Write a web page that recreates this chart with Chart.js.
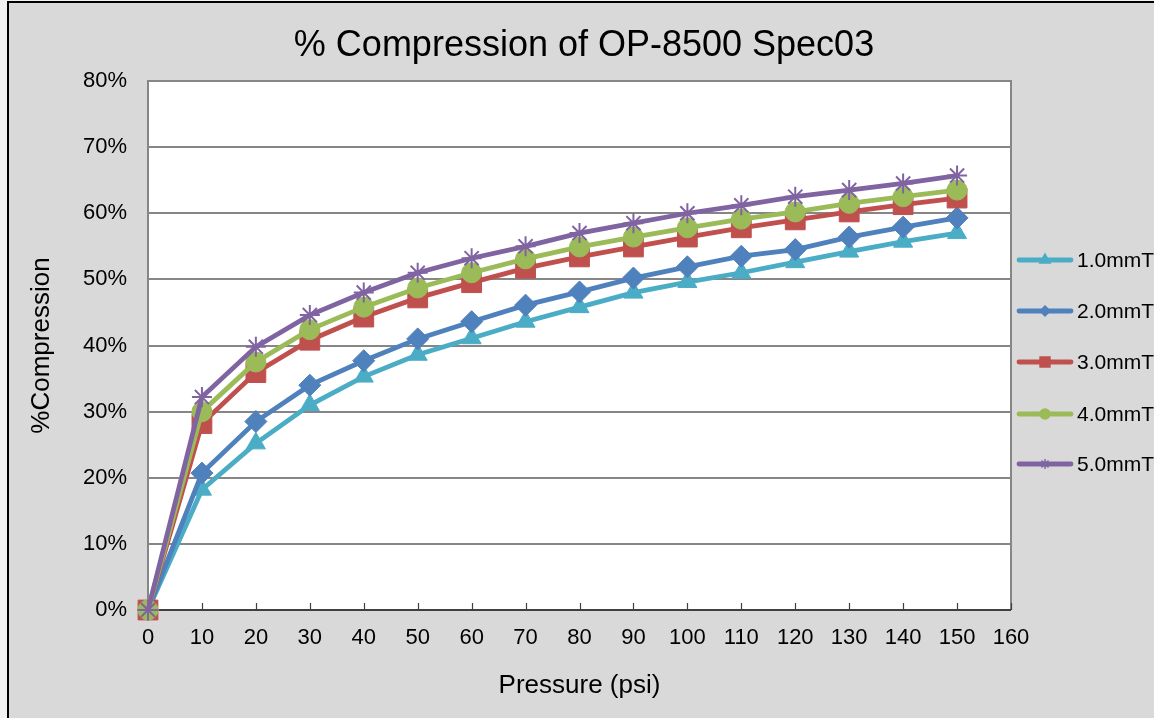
<!DOCTYPE html>
<html>
<head>
<meta charset="utf-8">
<script src="https://cdn.jsdelivr.net/npm/chart.js@4.4.1/dist/chart.umd.min.js"></script>
<style>
html,body{margin:0;padding:0;background:#fff;}
#wrap{position:relative;width:1154px;height:718px;}
</style>
</head>
<body>
<div id="wrap"><canvas id="c"></canvas></div>
<script>
const pressure = [0,10,20,30,40,50,60,70,80,90,100,110,120,130,140,150];
const seriesNames = ['1.0mmT','2.0mmT','3.0mmT','4.0mmT','5.0mmT'];
const s1 = [0,18.2,25.2,31.0,35.3,38.6,41.1,43.6,45.8,48.0,49.6,51.0,52.6,54.2,55.7,57.0];
const s2 = [0,20.7,28.5,34.0,37.7,41.0,43.6,46.1,48.1,50.2,51.9,53.5,54.5,56.4,57.9,59.3];
const s3 = [0,28.2,35.9,40.8,44.3,47.2,49.5,51.7,53.4,54.9,56.4,57.8,59.0,60.2,61.3,62.3];
const s4 = [0,30.0,37.5,42.4,45.8,48.7,51.0,53.1,54.9,56.4,57.8,59.1,60.2,61.5,62.5,63.5];
const s5 = [0,32.2,39.8,44.6,48.0,51.0,53.2,55.0,57.0,58.5,60.0,61.2,62.5,63.5,64.5,65.7];
const yTicks = [0,10,20,30,40,50,60,70,80];
const xTicks = [0,10,20,30,40,50,60,70,80,90,100,110,120,130,140,150,160];
const chartTitle = '% Compression of OP-8500 Spec03';

const colors = ['#4bacc6','#4f81bd','#c0504d','#9bbb59','#8064a2'];
const markers = ['triangle','rectRot','rect','circle','star'];
const radii = [11,11,14,10,10];
const legendRadii = [6,5,7,5,5];
const allSeries = [s1,s2,s3,s4,s5];

const FONT = "'Liberation Sans', Arial, sans-serif";

const datasets = allSeries.map((s,i)=>({
  label: seriesNames[i],
  data: pressure.map((p,j)=>({x:p,y:s[j]})),
  borderColor: colors[i],
  backgroundColor: colors[i],
  pointBorderColor: colors[i],
  pointBackgroundColor: colors[i],
  pointStyle: markers[i],
  pointRadius: radii[i],
  pointBorderWidth: i===4 ? 2 : 1,
  borderWidth: 4.8,
  tension: 0,
  clip: false,
  order: 5 - i
}));

const frame = {
  id: 'frame',
  beforeDraw(chart){
    const ctx = chart.ctx;
    ctx.save();
    ctx.fillStyle = '#f2f2f2';
    ctx.fillRect(0,0,chart.width,chart.height);
    ctx.fillStyle = '#d9d9d9';
    ctx.fillRect(8,2,chart.width-8,chart.height-2);
    ctx.strokeStyle = '#000';
    ctx.lineWidth = 2;
    ctx.beginPath();
    ctx.moveTo(8,chart.height); ctx.lineTo(8,2); ctx.lineTo(chart.width,2);
    ctx.stroke();
    const a = chart.chartArea;
    ctx.fillStyle = '#ffffff';
    ctx.fillRect(a.left,a.top,a.right-a.left,a.bottom-a.top);
    ctx.fillStyle = '#000';
    ctx.font = "36px " + FONT;
    ctx.textAlign = 'center';
    ctx.textBaseline = 'middle';
    ctx.fillText(chartTitle,584,46);
    ctx.restore();
  },
  beforeDatasetsDraw(chart){
    const ctx = chart.ctx;
    const a = chart.chartArea;
    const xs = chart.scales.x;
    ctx.save();
    ctx.strokeStyle = '#868686';
    ctx.lineWidth = 2;
    ctx.beginPath();
    ctx.moveTo(a.left,a.top); ctx.lineTo(a.right,a.top); ctx.lineTo(a.right,a.bottom);
    ctx.stroke();
    ctx.strokeStyle = '#404040';
    ctx.lineWidth = 2;
    ctx.beginPath();
    ctx.moveTo(a.left,a.bottom); ctx.lineTo(a.right,a.bottom);
    ctx.stroke();
    ctx.lineWidth = 1.2;
    ctx.beginPath();
    xTicks.forEach(v=>{
      const px = Math.round(xs.getPixelForValue(v))+0.5;
      ctx.moveTo(px,a.bottom); ctx.lineTo(px,a.bottom-7);
    });
    ctx.stroke();
    ctx.restore();
  },
  afterDraw(chart){
    const ctx = chart.ctx;
    ctx.save();
    const ly0 = 260, ldy = 51;
    chart.data.datasets.forEach((ds,i)=>{
      const y = ly0 + i*ldy + (i===3?1:0);
      ctx.strokeStyle = ds.borderColor;
      ctx.lineWidth = 4.8;
      ctx.lineCap = 'round';
      ctx.beginPath();
      ctx.moveTo(1019,y); ctx.lineTo(1071,y);
      ctx.stroke();
      ctx.lineCap = 'butt';
      ctx.lineWidth = 1.5;
      ctx.fillStyle = ds.borderColor;
      ctx.strokeStyle = ds.borderColor;
      Chart.helpers.drawPoint(ctx,{pointStyle:ds.pointStyle,rotation:0,borderWidth:1.5,radius:legendRadii[i]},1045,y);
      ctx.fillStyle = '#000';
      ctx.font = "21px " + FONT;
      ctx.textAlign = 'left';
      ctx.textBaseline = 'middle';
      ctx.fillText(ds.label,1077,y+1);
    });
    ctx.restore();
  }
};

new Chart(document.getElementById('c'),{
  type:'line',
  data:{datasets},
  options:{
    responsive:true,
    maintainAspectRatio:false,
    animation:false,
    devicePixelRatio:1,
    layout:{padding:{left:0,right:143,top:81,bottom:0}},
    plugins:{
      legend:{display:false},
      tooltip:{enabled:false},
      title:{display:false}
    },
    scales:{
      x:{
        type:'linear',
        min:0,max:160,
        afterBuildTicks(scale){ scale.ticks = xTicks.map(v=>({value:v})); },
        afterFit(scale){ scale.height = 108; },
        grid:{display:false,drawTicks:false},
        border:{display:false},
        ticks:{color:'#000',font:{family:FONT,size:22},padding:15,maxRotation:0,autoSkip:false},
        title:{display:true,text:'Pressure (psi)',color:'#000',font:{family:FONT,size:26},padding:{top:0,bottom:17}}
      },
      y:{
        min:0,max:80,
        afterBuildTicks(scale){ scale.ticks = yTicks.map(v=>({value:v})); },
        afterFit(scale){ scale.width = 148; },
        grid:{color:'#868686',lineWidth:2,drawTicks:false},
        border:{display:true,color:'#868686',width:2},
        ticks:{color:'#000',font:{family:FONT,size:22},padding:21,callback:v=>v+'%'},
        title:{display:true,text:'%Compression',color:'#000',font:{family:FONT,size:26},padding:{top:26,bottom:0}}
      }
    }
  },
  plugins:[frame]
});
</script>
</body>
</html>
